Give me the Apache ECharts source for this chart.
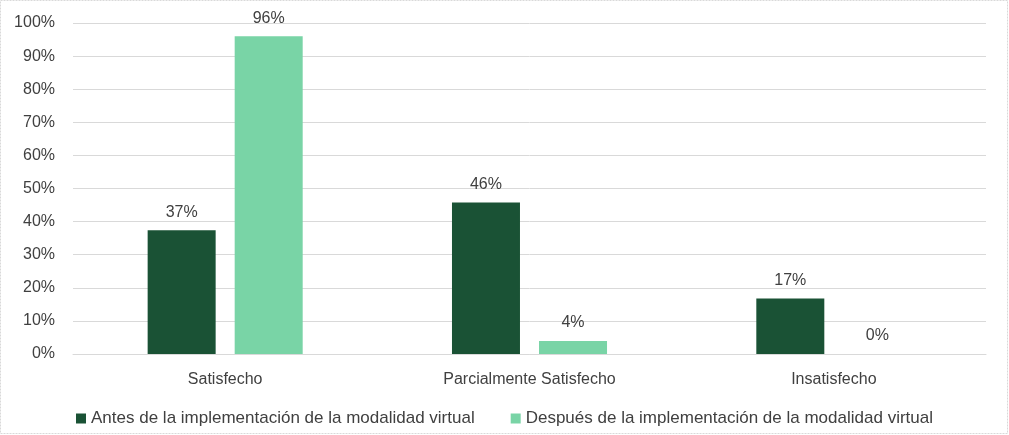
<!DOCTYPE html>
<html><head><meta charset="utf-8">
<script src="https://cdn.jsdelivr.net/npm/echarts@6/dist/echarts.min.js"></script>
<style>html,body{margin:0;padding:0;background:#fff}#c{width:1009px;height:435px}</style>
</head><body><div id="c"></div>
<script>
const categories = ['Satisfecho', 'Parcialmente Satisfecho', 'Insatisfecho'];
const seriesNames = ['Antes de la implementación de la modalidad virtual', 'Después de la implementación de la modalidad virtual'];
const antes = [37.4, 45.8, 16.8];
const despues = [96.0, 3.9, 0];
const yTicks = [0, 10, 20, 30, 40, 50, 60, 70, 80, 90, 100];

const FONT = 'Liberation Sans';
const TXT = '#404040';
const chart = echarts.init(document.getElementById('c'), null, {renderer: 'canvas'});
const lbl = {show: true, position: 'top', distance: 10, color: TXT, fontFamily: FONT, fontSize: 16,
  formatter: p => Math.round(p.value) + '%'};
chart.setOption({
  animation: false,
  graphic: [{type: 'rect', shape: {x: 0.5, y: 0.5, width: 1007, height: 433},
    style: {fill: null, stroke: '#d9d9d9', lineWidth: 1, lineDash: [2, 1]}}],
  grid: {left: 73, right: 23, top: 23, bottom: 81},
  legend: {bottom: 3, left: 'center', itemWidth: 10, itemHeight: 10, itemGap: 36,
    icon: 'rect', textStyle: {color: TXT, fontFamily: FONT, fontSize: 17}, data: seriesNames},
  xAxis: {type: 'category', data: categories,
    axisLine: {lineStyle: {color: '#d9d9d9', width: 1}}, axisTick: {show: false},
    axisLabel: {color: TXT, fontFamily: FONT, fontSize: 16, margin: 18}},
  yAxis: {type: 'value', min: 0, max: 100, interval: 10,
    axisLabel: {color: TXT, fontFamily: FONT, fontSize: 16, margin: 18,
      formatter: v => yTicks.includes(v) ? v + '%' : ''},
    splitLine: {lineStyle: {color: '#d9d9d9', width: 1}}, axisLine: {show: false}, axisTick: {show: false}},
  series: [
    {name: seriesNames[0], type: 'bar', data: antes, barWidth: 68, barGap: '28%',
      itemStyle: {color: '#1a5235'}, label: lbl},
    {name: seriesNames[1], type: 'bar', data: despues, barWidth: 68,
      itemStyle: {color: '#79d4a6'}, label: lbl}
  ]
});
</script></body></html>
